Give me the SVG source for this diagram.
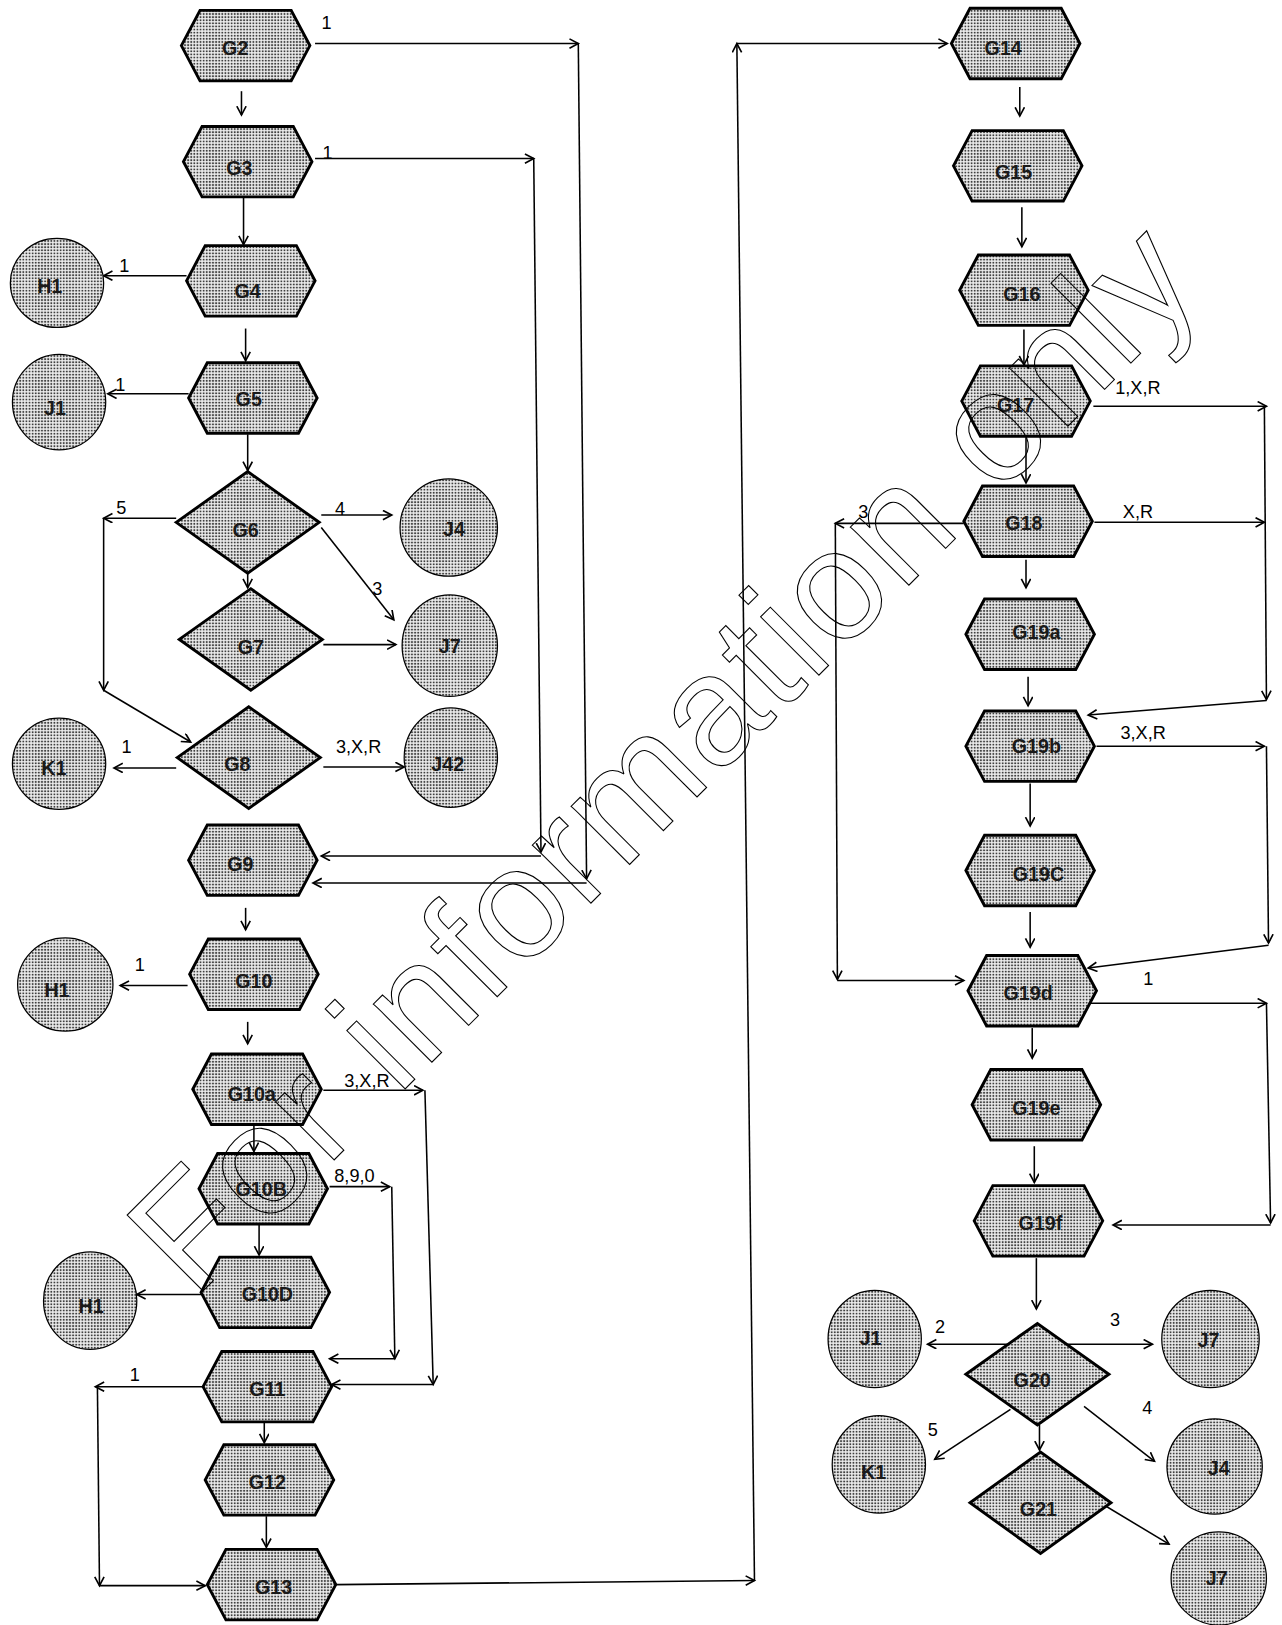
<svg xmlns="http://www.w3.org/2000/svg" width="1282" height="1625" viewBox="0 0 1282 1625">
<style>
.n{fill:url(#dots);stroke:#000;stroke-width:2.8;stroke-linejoin:miter}
.c{fill:url(#dots);stroke:#000;stroke-width:1.2}
.t{font-family:"Liberation Sans",Arial,sans-serif;font-weight:bold;font-size:19px;fill:#1a1a1a;text-anchor:middle;dominant-baseline:central}
.l{font-family:"Liberation Sans",Arial,sans-serif;font-size:17.5px;fill:#000;text-anchor:middle}
.e{fill:none;stroke:#000;stroke-width:1.5;marker-end:url(#ah)}
.wm{font-family:"Liberation Sans",Arial,sans-serif;font-size:156px;fill:none;stroke:#000;stroke-width:1.1}
</style>
<defs>
<pattern id="dots" patternUnits="userSpaceOnUse" width="3" height="3">
<rect width="3" height="3" fill="#ececec"/>
<circle cx="1.5" cy="1.5" r="1" fill="#404040"/>
</pattern>
<marker id="ah" markerUnits="userSpaceOnUse" markerWidth="12" markerHeight="12" refX="9" refY="5" orient="auto">
<path d="M0.5,0.5 L9,5 L0.5,9.5" fill="none" stroke="#000" stroke-width="1.6"/>
</marker>
</defs>
<rect width="1282" height="1625" fill="#fff"/>
<g transform="scale(1.03637)">
<g id="connectors">
<path class="e" d="M304,42 H558"/>
<path class="e" d="M558,42 L566,848"/>
<path class="e" d="M566,852 H302"/>
<path class="e" d="M304,153 H515"/>
<path class="e" d="M515,153 L522,822"/>
<path class="e" d="M522,826 H310"/>
<path class="e" d="M233,88 V111"/>
<path class="e" d="M235,190 V236"/>
<path class="e" d="M237,317 V348"/>
<path class="e" d="M239,419 V454"/>
<path class="e" d="M239,553 V567"/>
<path class="e" d="M180,266 H100"/>
<path class="e" d="M182,380 H104"/>
<path class="e" d="M170,500 H100"/>
<path class="e" d="M100,500 V666"/>
<path class="e" d="M100,666 L184,716"/>
<path class="e" d="M310,497 H378"/>
<path class="e" d="M310,509 L380,598"/>
<path class="e" d="M312,622 H382"/>
<path class="e" d="M170,741 H110"/>
<path class="e" d="M312,740 H390"/>
<path class="e" d="M237,876 V897"/>
<path class="e" d="M181,951 H116"/>
<path class="e" d="M239,986 V1007"/>
<path class="e" d="M312,1052 H408"/>
<path class="e" d="M410,1052 L418,1336"/>
<path class="e" d="M418,1336 H320"/>
<path class="e" d="M245,1085 V1111"/>
<path class="e" d="M318,1145 H376"/>
<path class="e" d="M378,1145 L381,1311"/>
<path class="e" d="M381,1311 H318"/>
<path class="e" d="M250,1182 V1211"/>
<path class="e" d="M194,1249 H132"/>
<path class="e" d="M196,1338 H92"/>
<path class="e" d="M94,1338 L96,1530"/>
<path class="e" d="M96,1530 H198"/>
<path class="e" d="M255,1373 V1392"/>
<path class="e" d="M257,1463 V1493"/>
<path class="e" d="M324,1529 L728,1525"/>
<path class="e" d="M728,1525 L711,42"/>
<path class="e" d="M711,42 H914"/>
<path class="e" d="M984,84 V112"/>
<path class="e" d="M986,200 V238"/>
<path class="e" d="M988,318 V352"/>
<path class="e" d="M990,422 V466"/>
<path class="e" d="M1055,392 H1222"/>
<path class="e" d="M1220,392 L1222,675"/>
<path class="e" d="M1222,676 L1050,690"/>
<path class="e" d="M1056,504 H1220"/>
<path class="e" d="M930,505 H806"/>
<path class="e" d="M806,505 L808,945"/>
<path class="e" d="M808,946 H930"/>
<path class="e" d="M990,540 V567"/>
<path class="e" d="M992,653 V681"/>
<path class="e" d="M1058,720 H1220"/>
<path class="e" d="M1222,720 L1224,910"/>
<path class="e" d="M1224,912 L1050,934"/>
<path class="e" d="M994,756 V797"/>
<path class="e" d="M994,880 V914"/>
<path class="e" d="M1050,968 H1222"/>
<path class="e" d="M1222,968 L1226,1180"/>
<path class="e" d="M1226,1182 H1074"/>
<path class="e" d="M996,992 V1021"/>
<path class="e" d="M998,1106 V1141"/>
<path class="e" d="M1000,1214 V1263"/>
<path class="e" d="M975,1297 H895"/>
<path class="e" d="M1030,1297 H1112"/>
<path class="e" d="M975,1360 L902,1408"/>
<path class="e" d="M1046,1357 L1114,1410"/>
<path class="e" d="M1003,1375 V1399"/>
<path class="e" d="M1050,1443 L1128,1490"/>
<text class="l" x="315" y="28">1</text>
<text class="l" x="316" y="153">1</text>
<text class="l" x="120" y="262">1</text>
<text class="l" x="116" y="377">1</text>
<text class="l" x="117" y="496">5</text>
<text class="l" x="328" y="497">4</text>
<text class="l" x="364" y="574">3</text>
<text class="l" x="122" y="727">1</text>
<text class="l" x="346" y="727">3,X,R</text>
<text class="l" x="135" y="937">1</text>
<text class="l" x="354" y="1049">3,X,R</text>
<text class="l" x="342" y="1141">8,9,0</text>
<text class="l" x="130" y="1333">1</text>
<text class="l" x="1098" y="380">1,X,R</text>
<text class="l" x="1098" y="500">X,R</text>
<text class="l" x="833" y="500">3</text>
<text class="l" x="1103" y="713">3,X,R</text>
<text class="l" x="1108" y="950">1</text>
<text class="l" x="907" y="1286">2</text>
<text class="l" x="1076" y="1279">3</text>
<text class="l" x="900" y="1386">5</text>
<text class="l" x="1107" y="1364">4</text>
</g>
<g id="G2"><polygon class="n" points="175,44 193,10 281,10 299,44 281,78 193,78"/><text class="t" x="227" y="46">G2</text></g>
<g id="G3"><polygon class="n" points="177,156 195,122 283,122 301,156 283,190 195,190"/><text class="t" x="231" y="162">G3</text></g>
<g id="G4"><polygon class="n" points="180,271 198,237 286,237 304,271 286,305 198,305"/><text class="t" x="239" y="281">G4</text></g>
<g id="G5"><polygon class="n" points="182,384 200,350 288,350 306,384 288,418 200,418"/><text class="t" x="240" y="385">G5</text></g>
<g id="G6"><polygon class="n" points="170,504 239,455 308,504 239,553"/><text class="t" x="237" y="511">G6</text></g>
<g id="G7"><polygon class="n" points="173,617 242,568 311,617 242,666"/><text class="t" x="242" y="624">G7</text></g>
<g id="G8"><polygon class="n" points="171,731 240,682 309,731 240,780"/><text class="t" x="229" y="737">G8</text></g>
<g id="G9"><polygon class="n" points="182,830 200,796 288,796 306,830 288,864 200,864"/><text class="t" x="232" y="834">G9</text></g>
<g id="G10"><polygon class="n" points="183,940 201,906 289,906 307,940 289,974 201,974"/><text class="t" x="245" y="947">G10</text></g>
<g id="G10a"><polygon class="n" points="186,1051 204,1017 292,1017 310,1051 292,1085 204,1085"/><text class="t" x="243" y="1056">G10a</text></g>
<g id="G10B"><polygon class="n" points="192,1147 210,1113 298,1113 316,1147 298,1181 210,1181"/><text class="t" x="252" y="1147">G10B</text></g>
<g id="G10D"><polygon class="n" points="194,1247 212,1213 300,1213 318,1247 300,1281 212,1281"/><text class="t" x="258" y="1249">G10D</text></g>
<g id="G11"><polygon class="n" points="196,1338 214,1304 302,1304 320,1338 302,1372 214,1372"/><text class="t" x="258" y="1340">G11</text></g>
<g id="G12"><polygon class="n" points="198,1428 216,1394 304,1394 322,1428 304,1462 216,1462"/><text class="t" x="258" y="1430">G12</text></g>
<g id="G13"><polygon class="n" points="200,1529 218,1495 306,1495 324,1529 306,1563 218,1563"/><text class="t" x="264" y="1531">G13</text></g>
<g id="G14"><polygon class="n" points="918,42 936,8 1024,8 1042,42 1024,76 936,76"/><text class="t" x="968" y="46">G14</text></g>
<g id="G15"><polygon class="n" points="920,160 938,126 1026,126 1044,160 1026,194 938,194"/><text class="t" x="978" y="166">G15</text></g>
<g id="G16"><polygon class="n" points="926,280 944,246 1032,246 1050,280 1032,314 944,314"/><text class="t" x="986" y="284">G16</text></g>
<g id="G17"><polygon class="n" points="928,387 946,353 1034,353 1052,387 1034,421 946,421"/><text class="t" x="980" y="391">G17</text></g>
<g id="G18"><polygon class="n" points="930,503 948,469 1036,469 1054,503 1036,537 948,537"/><text class="t" x="988" y="505">G18</text></g>
<g id="G19a"><polygon class="n" points="932,612 950,578 1038,578 1056,612 1038,646 950,646"/><text class="t" x="1000" y="610">G19a</text></g>
<g id="G19b"><polygon class="n" points="932,720 950,686 1038,686 1056,720 1038,754 950,754"/><text class="t" x="1000" y="720">G19b</text></g>
<g id="G19C"><polygon class="n" points="932,840 950,806 1038,806 1056,840 1038,874 950,874"/><text class="t" x="1002" y="843">G19C</text></g>
<g id="G19d"><polygon class="n" points="934,956 952,922 1040,922 1058,956 1040,990 952,990"/><text class="t" x="992" y="958">G19d</text></g>
<g id="G19e"><polygon class="n" points="938,1066 956,1032 1044,1032 1062,1066 1044,1100 956,1100"/><text class="t" x="1000" y="1069">G19e</text></g>
<g id="G19f"><polygon class="n" points="940,1178 958,1144 1046,1144 1064,1178 1046,1212 958,1212"/><text class="t" x="1004" y="1180">G19f</text></g>
<g id="G20"><polygon class="n" points="932,1326 1001,1277 1070,1326 1001,1375"/><text class="t" x="996" y="1332">G20</text></g>
<g id="G21"><polygon class="n" points="936,1450 1004,1401 1072,1450 1004,1499"/><text class="t" x="1002" y="1456">G21</text></g>
<g id="H1a"><ellipse class="c" cx="55" cy="273" rx="45" ry="43"/><text class="t" x="48" y="276">H1</text></g>
<g id="J1a"><ellipse class="c" cx="57" cy="388" rx="45" ry="46"/><text class="t" x="53" y="394">J1</text></g>
<g id="J4a"><ellipse class="c" cx="433" cy="509" rx="47" ry="47"/><text class="t" x="438" y="510">J4</text></g>
<g id="J7a"><ellipse class="c" cx="434" cy="623" rx="46" ry="49"/><text class="t" x="434" y="623">J7</text></g>
<g id="J42"><ellipse class="c" cx="435" cy="731" rx="45" ry="48"/><text class="t" x="432" y="737">J42</text></g>
<g id="K1a"><ellipse class="c" cx="57" cy="737" rx="45" ry="44"/><text class="t" x="52" y="741">K1</text></g>
<g id="H1b"><ellipse class="c" cx="63" cy="950" rx="46" ry="45"/><text class="t" x="55" y="955">H1</text></g>
<g id="H1c"><ellipse class="c" cx="87" cy="1255" rx="45" ry="47"/><text class="t" x="88" y="1260">H1</text></g>
<g id="J1b"><ellipse class="c" cx="844" cy="1292" rx="45" ry="47"/><text class="t" x="840" y="1291">J1</text></g>
<g id="J7b"><ellipse class="c" cx="1168" cy="1292" rx="47" ry="47"/><text class="t" x="1166" y="1293">J7</text></g>
<g id="K1b"><ellipse class="c" cx="848" cy="1413" rx="45" ry="47"/><text class="t" x="843" y="1420">K1</text></g>
<g id="J4b"><ellipse class="c" cx="1172" cy="1415" rx="46" ry="46"/><text class="t" x="1176" y="1416">J4</text></g>
<g id="J7c"><ellipse class="c" cx="1176" cy="1523" rx="46" ry="45"/><text class="t" x="1174" y="1523">J7</text></g>
</g>
<text class="wm" x="194" y="1300" transform="rotate(-45 194 1300)" textLength="1430" lengthAdjust="spacing">For information only</text>
</svg>
